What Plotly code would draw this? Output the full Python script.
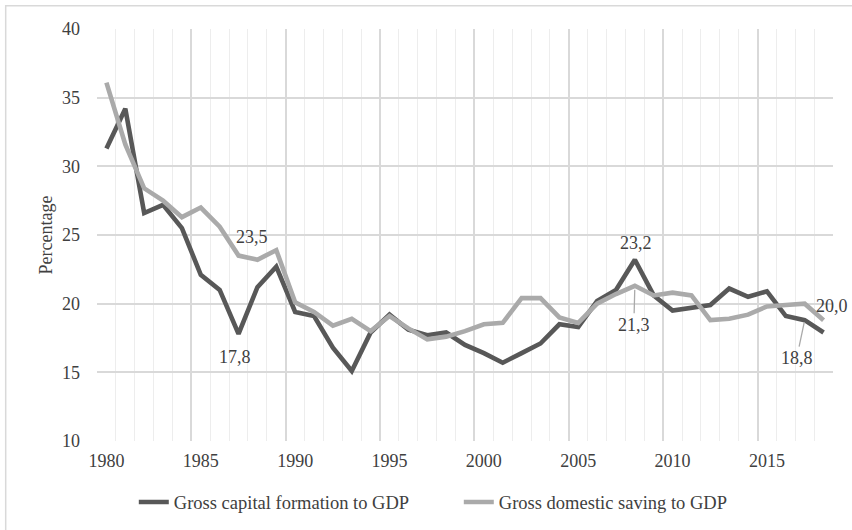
import plotly.graph_objects as go

years = list(range(1980, 2019))
capital_formation = [31.3, 34.2, 26.6, 27.2, 25.5, 22.1, 21.0, 17.8, 21.2, 22.7,
                     19.4, 19.1, 16.8, 15.1, 17.9, 19.2, 18.1, 17.7, 17.9, 17.0,
                     16.4, 15.7, 16.4, 17.1, 18.5, 18.3, 20.2, 21.0, 23.2, 20.6,
                     19.5, 19.7, 19.9, 21.1, 20.5, 20.9, 19.1, 18.8, 17.9]
domestic_saving = [36.1, 31.6, 28.4, 27.5, 26.3, 27.0, 25.6, 23.5, 23.2, 23.9,
                   20.1, 19.4, 18.4, 18.9, 18.0, 19.1, 18.2, 17.4, 17.6, 18.0,
                   18.5, 18.6, 20.4, 20.4, 19.0, 18.6, 20.0, 20.7, 21.3, 20.6,
                   20.8, 20.6, 18.8, 18.9, 19.2, 19.8, 19.9, 20.0, 18.8]
series_names = ["Gross capital formation to GDP", "Gross domestic saving to GDP"]
tick_years = list(range(1980, 2019, 5))
y_ticks = [10, 15, 20, 25, 30, 35, 40]

DARK = "#585858"
LIGHT = "#aaaaaa"
TEXT = "#404040"
FONT = "Liberation Serif, Times New Roman, DejaVu Serif, serif"

fig = go.Figure()
fig.add_trace(go.Scatter(x=years, y=capital_formation, mode="lines",
                         name=series_names[0], line=dict(color=DARK, width=4.6)))
fig.add_trace(go.Scatter(x=years, y=domestic_saving, mode="lines",
                         name=series_names[1], line=dict(color=LIGHT, width=4.6)))
# invisible helper trace for the major-grid overlay axis
fig.add_trace(go.Scatter(x=[years[0], years[-1]], y=[y_ticks[0], y_ticks[0]], xaxis="x2",
                         mode="lines", line=dict(width=0), opacity=0,
                         showlegend=False, hoverinfo="skip"))

def lbl(v):
    return f"{v:.1f}".replace(".", ",")

i87 = years.index(1987)
i08 = years.index(2008)
i17 = years.index(2017)
ann_font = dict(family=FONT, size=18, color=TEXT)
annotations = [
    dict(x=years[i87], y=domestic_saving[i87], text=lbl(domestic_saving[i87]),
         showarrow=False, xshift=13, yshift=19, font=ann_font),
    dict(x=years[i87], y=capital_formation[i87], text=lbl(capital_formation[i87]),
         showarrow=False, xshift=-4, yshift=-23, font=ann_font),
    dict(x=years[i08], y=capital_formation[i08], text=lbl(capital_formation[i08]),
         showarrow=False, xshift=1, yshift=17, font=ann_font),
    dict(x=years[i08], y=domestic_saving[i08], text=lbl(domestic_saving[i08]),
         showarrow=True, arrowhead=0, arrowwidth=1.3, arrowcolor=LIGHT,
         ax=-1, ay=39, standoff=4, font=ann_font),
    dict(x=years[i17], y=capital_formation[i17], text=lbl(capital_formation[i17]),
         showarrow=True, arrowhead=0, arrowwidth=1.3, arrowcolor=LIGHT,
         ax=-8, ay=38, standoff=2, font=ann_font),
    dict(x=years[i17], y=domestic_saving[i17], text=lbl(domestic_saving[i17]),
         showarrow=False, xshift=27, yshift=-2, font=ann_font),
]

x_range = [years[0] - 0.5, years[-1] + 0.5]
minor_grid = [y - 0.5 for y in years] + [years[-1] + 0.5]
major_grid = [y - 0.5 for y in tick_years]

fig.update_layout(
    width=852, height=530,
    margin=dict(l=97, r=19, t=29, b=89, autoexpand=False),
    paper_bgcolor="white", plot_bgcolor="white",
    font=dict(family=FONT, size=18, color=TEXT),
    showlegend=True,
    legend=dict(orientation="h", x=0.05, xanchor="left",
                yref="container", y=0.052, yanchor="middle",
                font=dict(family=FONT, size=18.5, color=TEXT),
                entrywidth=280, entrywidthmode="pixels", bgcolor="rgba(0,0,0,0)"),
    xaxis=dict(range=x_range, tickmode="array", tickvals=tick_years,
               ticktext=[str(t) for t in tick_years], showgrid=False, zeroline=False,
               showline=False, ticks="", ticklabelstandoff=7,
               minor=dict(tickmode="array", tickvals=minor_grid, showgrid=True,
                          gridcolor="#ededed", gridwidth=1.3, ticks="")),
    xaxis2=dict(range=x_range, overlaying="x", anchor="y", tickmode="array",
                tickvals=major_grid, showgrid=True, gridcolor="#d9d9d9", gridwidth=1.5,
                showticklabels=False, zeroline=False, showline=False, ticks=""),
    yaxis=dict(range=[y_ticks[0], y_ticks[-1]], tickmode="array", tickvals=y_ticks,
               showgrid=True, gridcolor="#d9d9d9", gridwidth=1.5, zeroline=False,
               showline=False, ticks="", ticklabelstandoff=16,
               title=dict(text="Percentage", standoff=4,
                          font=dict(family=FONT, size=18, color=TEXT))),
    annotations=annotations,
    shapes=[dict(type="rect", xref="paper", yref="paper",
                 x0=(5.7 - 97) / 736, x1=1.2, y0=-0.5, y1=1 + (29 - 5.7) / 411.7,
                 line=dict(color="#d9d9d9", width=1.5), layer="below")],
)

fig.write_html("out.html", config={"displayModeBar": False},
               post_script="document.body.style.margin='0';document.body.style.overflow='hidden';")
